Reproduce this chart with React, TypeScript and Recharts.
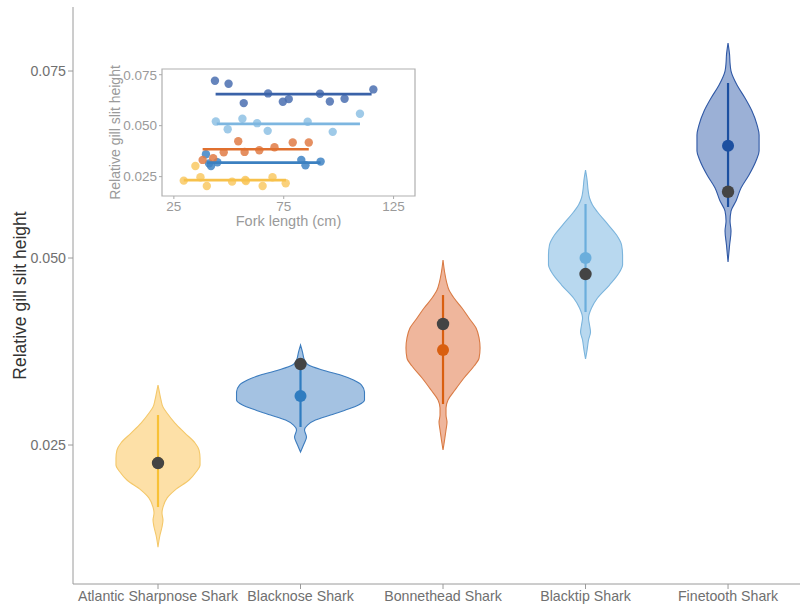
import React from 'react';
import { ComposedChart, ScatterChart, Scatter, XAxis, YAxis, ReferenceArea, Curve } from 'recharts';

// ---------- Main chart data ----------
const species = ['Atlantic Sharpnose Shark', 'Blacknose Shark', 'Bonnethead Shark', 'Blacktip Shark', 'Finetooth Shark'];
const yTicks = [0.025, 0.05, 0.075];
const Y_MIN = 0.00642;
const Y_MAX = 0.08356;
const X_DOMAIN = [0.4035, 5.505];

// violin outlines: gill-height values and half-width of density (x units)
const atlanticV = [0.03302, 0.03195, 0.03102, 0.03008, 0.02928, 0.02794, 0.0266, 0.02527, 0.02433, 0.02326, 0.02233, 0.02139, 0.02032, 0.01898, 0.01791, 0.01671, 0.01591, 0.01497, 0.01404, 0.01297, 0.01136];
const atlanticW = [0, 0.011, 0.021, 0.035, 0.063, 0.119, 0.189, 0.26, 0.288, 0.295, 0.295, 0.267, 0.218, 0.119, 0.063, 0.035, 0.028, 0.035, 0.028, 0.014, 0];

const blacknoseV = [0.03837, 0.03743, 0.03636, 0.0357, 0.03503, 0.03436, 0.03369, 0.03302, 0.03209, 0.03102, 0.03035, 0.02968, 0.02901, 0.02834, 0.02767, 0.02701, 0.02607, 0.025, 0.02406];
const blacknoseW = [0, 0.014, 0.028, 0.056, 0.154, 0.281, 0.372, 0.428, 0.449, 0.449, 0.407, 0.316, 0.211, 0.105, 0.049, 0.028, 0.042, 0.021, 0];

const bonnetheadV = [0.04973, 0.04813, 0.04679, 0.04572, 0.04465, 0.04332, 0.04198, 0.04064, 0.03931, 0.03797, 0.03663, 0.03556, 0.03396, 0.03235, 0.03102, 0.02995, 0.02901, 0.02807, 0.02701, 0.02567, 0.02433];
const bonnetheadW = [0, 0.011, 0.025, 0.042, 0.077, 0.133, 0.182, 0.232, 0.253, 0.26, 0.253, 0.218, 0.147, 0.084, 0.035, 0.021, 0.021, 0.028, 0.021, 0.011, 0];

const blacktipV = [0.06176, 0.06043, 0.05909, 0.05802, 0.05709, 0.05615, 0.05441, 0.05307, 0.05174, 0.0504, 0.04906, 0.04813, 0.04639, 0.04465, 0.04332, 0.04198, 0.04104, 0.04011, 0.03904, 0.0377, 0.0365];
const blacktipW = [0, 0.011, 0.018, 0.028, 0.049, 0.084, 0.161, 0.218, 0.253, 0.26, 0.26, 0.239, 0.168, 0.084, 0.042, 0.021, 0.028, 0.035, 0.021, 0.011, 0];

const finetoothV = [0.07874, 0.07714, 0.07607, 0.075, 0.07313, 0.07139, 0.06965, 0.06778, 0.06644, 0.06431, 0.06297, 0.0611, 0.05936, 0.05762, 0.05628, 0.05495, 0.05361, 0.05174, 0.04947];
const finetoothW = [0, 0.011, 0.014, 0.021, 0.063, 0.119, 0.168, 0.204, 0.218, 0.218, 0.196, 0.147, 0.091, 0.056, 0.021, 0.014, 0.021, 0.011, 0];

// summary: whisker low/high, mean (coloured dot), median (dark dot)
const whiskerLow = [0.01671, 0.02741, 0.03048, 0.04278, 0.05682];
const whiskerHigh = [0.02901, 0.03663, 0.04505, 0.05722, 0.0734];
const meanValues = [0.02259, 0.03155, 0.0377, 0.05, 0.06501];
const medianValues = [0.02259, 0.03583, 0.04118, 0.04786, 0.05886];

const violinFill = ['#FDE0A7', '#A4C2E2', '#EFB69C', '#B8D8EF', '#9BB0D6'];
const violinStroke = ['#F4C86A', '#3C7CBE', '#D97B45', '#7BB4DC', '#2F58A5'];
const lineColor = ['#F8C136', '#2F7CC0', '#D95F10', '#6BAEDC', '#1C4FA0'];

// ---------- Inset data ----------
const atlanticLen = [29.5, 34.8, 37.1, 40.0, 51.5, 57.5, 57.8, 65.4, 69.9, 75.9];
const atlanticGill = [0.02303, 0.03025, 0.02467, 0.02041, 0.02254, 0.02336, 0.02287, 0.02041, 0.02467, 0.02172];
const blacknoseLen = [39.6, 41.9, 44.8, 83.0, 84.9, 91.8, 41.0];
const blacknoseGill = [0.03598, 0.03025, 0.03205, 0.0332, 0.03057, 0.03238, 0.0315];
const bonnetheadLen = [38.1, 42.9, 47.7, 54.3, 57.2, 63.9, 70.8, 79.1, 86.4];
const bonnetheadGill = [0.0332, 0.034, 0.03697, 0.04238, 0.03713, 0.03795, 0.03943, 0.04172, 0.04172];
const blacktipLen = [44.1, 49.5, 56.2, 62.9, 67.7, 85.9, 97.3, 109.7];
const blacktipGill = [0.05205, 0.04828, 0.05336, 0.05123, 0.04746, 0.05189, 0.04697, 0.05582];
const finetoothLen = [43.7, 49.9, 56.8, 67.9, 74.6, 77.3, 91.5, 96.0, 102.7, 115.8];
const finetoothGill = [0.07205, 0.07057, 0.06107, 0.06582, 0.06172, 0.06303, 0.06566, 0.06189, 0.0632, 0.06779];

// fitted lines: [startLen, endLen], [startGill, endGill]
const fitLen = [[29.5, 76.0], [40.0, 91.8], [38.1, 86.4], [44.5, 109.7], [44.0, 115.0]];
const fitGill = [[0.0233, 0.0233], [0.0319, 0.0319], [0.03844, 0.03844], [0.0509, 0.0509], [0.06549, 0.06549]];

const insetPointColor = ['#F9C964', '#3F84C4', '#E07B45', '#8EC1E4', '#4A6EB0'];
const insetLineColor = ['#F7C14B', '#3B80C0', '#E0702F', '#7DB6E0', '#3A62A8'];
const insetXTicks = [25, 75, 125];
const INSET_X = [19.6, 134.75];
const INSET_Y = [0.0155, 0.0778];

const FONT = '"Liberation Sans", Arial, sans-serif';

const violinData = [
  [atlanticV, atlanticW],
  [blacknoseV, blacknoseW],
  [bonnetheadV, bonnetheadW],
  [blacktipV, blacktipW],
  [finetoothV, finetoothW],
];

const buildViolin = (center: number, vals: number[], widths: number[]) => {
  const right = vals.map((v, i) => ({ x: center + widths[i], y: v }));
  const left = vals.map((v, i) => ({ x: center - widths[i], y: v }));
  return [...right, ...left];
};

const makeViolinLine = (fill: string, stroke: string) => (props: any) => {
  const pts = props.points || [];
  const n = Math.floor(pts.length / 2);
  const right = pts.slice(0, n);
  const left = pts.slice(n);
  return (
    <Curve
      type="monotoneY"
      layout="vertical"
      points={right}
      baseLine={left}
      fill={fill}
      stroke={stroke}
      strokeWidth={1.1}
    />
  );
};

const noShape = () => <g />;
const dotShape = (r: number, fill: string) => (p: any) => <circle cx={p.cx} cy={p.cy} r={r} fill={fill} />;

const insetSets = [
  [atlanticLen, atlanticGill],
  [blacknoseLen, blacknoseGill],
  [bonnetheadLen, bonnetheadGill],
  [blacktipLen, blacktipGill],
  [finetoothLen, finetoothGill],
];

export default function App() {
  return (
    <div style={{ position: 'absolute', left: 0, top: 0, width: 800, height: 605, background: '#fff', fontFamily: FONT, overflow: 'hidden' }}>
      <div style={{ position: 'absolute', left: 0, top: 0 }}>
        <ComposedChart width={800} height={605} margin={{ top: 7, right: 0, left: 0, bottom: 0 }}>
          <XAxis
            xAxisId="top"
            orientation="top"
            type="number"
            domain={X_DOMAIN}
            allowDataOverflow
            height={0}
            tick={false}
            tickLine={false}
            axisLine={{ stroke: '#d2d2d2', strokeWidth: 2 }}
          />
          <XAxis
            type="number"
            dataKey="x"
            domain={X_DOMAIN}
            allowDataOverflow
            ticks={[1, 2, 3, 4, 5]}
            tickFormatter={(v: number) => species[v - 1] ?? ''}
            height={21}
            stroke="#9a9a9a"
            tickSize={5}
            tick={{ fill: '#707070', fontSize: 14.2, fontFamily: FONT }}
            interval={0}
          />
          <YAxis
            type="number"
            dataKey="y"
            domain={[Y_MIN, Y_MAX]}
            allowDataOverflow
            ticks={yTicks}
            tickFormatter={(v: number) => v.toFixed(3)}
            width={73}
            stroke="#9a9a9a"
            tickSize={5}
            tick={{ fill: '#707070', fontSize: 14.2, fontFamily: FONT }}
            label={{
              value: 'Relative gill slit height',
              angle: -90,
              position: 'insideLeft',
              offset: 20,
              style: { textAnchor: 'middle', fill: '#333', fontSize: 17.5, fontFamily: FONT },
            }}
          />
          {violinData.map(([vals, widths], i) => (
            <Scatter
              key={'v' + i}
              data={buildViolin(i + 1, vals as number[], widths as number[])}
              fill={violinFill[i]}
              line={makeViolinLine(violinFill[i], violinStroke[i])}
              shape={noShape}
              isAnimationActive={false}
              legendType="none"
            />
          ))}
          {species.map((s, i) => (
            <Scatter
              key={'w' + i}
              data={[{ x: i + 1, y: whiskerLow[i] }, { x: i + 1, y: whiskerHigh[i] }]}
              fill={lineColor[i]}
              line={{ stroke: lineColor[i], strokeWidth: 2.2 }}
              shape={noShape}
              isAnimationActive={false}
              legendType="none"
            />
          ))}
          {species.map((s, i) => (
            <Scatter
              key={'m' + i}
              data={[{ x: i + 1, y: meanValues[i] }]}
              fill={lineColor[i]}
              shape={dotShape(6, lineColor[i])}
              isAnimationActive={false}
              legendType="none"
            />
          ))}
          <Scatter
            data={medianValues.map((v, i) => ({ x: i + 1, y: v }))}
            fill="#444"
            shape={dotShape(6.2, '#444444')}
            isAnimationActive={false}
            legendType="none"
          />
        </ComposedChart>
      </div>
      <div style={{ position: 'absolute', left: 95, top: 60 }}>
        <ScatterChart width={330} height={175} margin={{ top: 9, right: 10, left: 0, bottom: 0 }}>
          <XAxis
            type="number"
            dataKey="x"
            domain={INSET_X}
            allowDataOverflow
            ticks={insetXTicks}
            height={39}
            axisLine={false}
            tickLine={{ stroke: '#aaa' }}
            tickSize={3}
            tick={{ fill: '#9a9a9a', fontSize: 13.5, fontFamily: FONT }}
            label={{
              value: 'Fork length (cm)',
              position: 'insideBottom',
              offset: 9,
              style: { fill: '#9a9a9a', fontSize: 14.5, fontFamily: FONT },
            }}
          />
          <YAxis
            type="number"
            dataKey="y"
            domain={INSET_Y}
            allowDataOverflow
            ticks={yTicks}
            tickFormatter={(v: number) => v.toFixed(3)}
            width={67}
            axisLine={false}
            tickLine={{ stroke: '#aaa' }}
            tickSize={3}
            tick={{ fill: '#9a9a9a', fontSize: 13.5, fontFamily: FONT }}
            label={{
              value: 'Relative gill slit height',
              angle: -90,
              position: 'insideLeft',
              offset: 20,
              style: { textAnchor: 'middle', fill: '#9a9a9a', fontSize: 14, fontFamily: FONT },
            }}
          />
          <ReferenceArea
            x1={INSET_X[0]}
            x2={INSET_X[1]}
            y1={INSET_Y[0]}
            y2={INSET_Y[1]}
            fill="none"
            stroke="#b0b0b0"
            strokeWidth={1.2}
            ifOverflow="visible"
          />
          {insetSets.map(([lens, gills], i) => (
            <Scatter
              key={'p' + i}
              data={(lens as number[]).map((l, j) => ({ x: l, y: (gills as number[])[j] }))}
              fill={insetPointColor[i]}
              shape={(p: any) => <circle cx={p.cx} cy={p.cy} r={4.2} fill={insetPointColor[i]} fillOpacity={0.85} />}
              isAnimationActive={false}
              legendType="none"
            />
          ))}
          {insetSets.map((_, i) => (
            <Scatter
              key={'f' + i}
              data={[{ x: fitLen[i][0], y: fitGill[i][0] }, { x: fitLen[i][1], y: fitGill[i][1] }]}
              fill={insetLineColor[i]}
              line={{ stroke: insetLineColor[i], strokeWidth: 2.7 }}
              shape={noShape}
              isAnimationActive={false}
              legendType="none"
            />
          ))}
        </ScatterChart>
      </div>
    </div>
  );
}
